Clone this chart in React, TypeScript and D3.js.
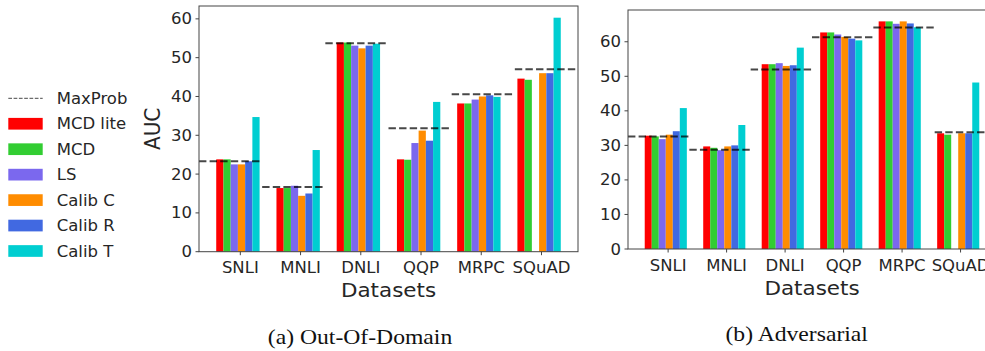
import React from 'react';
import * as d3 from 'd3';

// datasets on the x axis, methods as grouped bars
const datasets = ['SNLI', 'MNLI', 'DNLI', 'QQP', 'MRPC', 'SQuAD'];
const methods = ['MCD lite', 'MCD', 'LS', 'Calib C', 'Calib R', 'Calib T'];
const colors = ['#ff0000', '#32cd32', '#7b68ee', '#ff8c00', '#4169e1', '#00ced1'];

// (a) Out-Of-Domain
const oodMaxProb = [23.3, 16.7, 53.7, 31.8, 40.6, 47.0];
const oodMcdLite = [23.8, 16.4, 53.9, 23.8, 38.2, 44.6];
const oodMcd = [23.8, 16.4, 53.9, 23.7, 38.2, 44.3];
const oodLs = [22.5, 17.0, 53.1, 28.0, 39.2, null];
const oodCalibC = [22.5, 14.4, 52.4, 31.2, 40.0, 46.0];
const oodCalibR = [23.3, 15.0, 53.1, 28.6, 40.3, 46.0];
const oodCalibT = [34.7, 26.2, 53.6, 38.6, 39.9, 60.3];

// (b) Adversarial
const advMaxProb = [32.6, 28.7, 52.0, 61.3, 64.1, 33.8];
const advMcdLite = [32.8, 29.7, 53.5, 62.7, 65.9, 33.5];
const advMcd = [32.6, 29.3, 53.5, 62.7, 65.9, 33.1];
const advLs = [31.8, 28.6, 53.8, 62.1, 65.2, null];
const advCalibC = [33.1, 29.7, 53.0, 61.4, 65.9, 33.5];
const advCalibR = [34.1, 30.0, 53.2, 60.9, 65.3, 33.5];
const advCalibT = [40.8, 35.9, 58.3, 60.4, 64.2, 48.2];

const yTicks = [0, 10, 20, 30, 40, 50, 60];

const FONT = 'DejaVu Sans, sans-serif';
const TEXT = '#262626';
const SPINE = '#444';
const BAR_W = 0.12;
const SX = 1.1; // the reference is slightly stretched horizontally

type PanelProps = {
  left: number; right: number; top: number; bottom: number;
  series: (number | null)[][];
  maxProb: number[];
  yLabel?: string;
  caption: string; captionX: number; captionY: number;
};

function Panel({ left, right, top, bottom, series, maxProb, yLabel, caption, captionX, captionY }: PanelProps) {
  const span = datasets.length - 1 + 6 * BAR_W;
  const pad = span * 0.05;
  const x = d3.scaleLinear()
    .domain([-3 * BAR_W - pad, datasets.length - 1 + 3 * BAR_W + pad])
    .range([left, right]);
  const yMax = d3.max(series.flat().concat(maxProb), d => d ?? 0)! * 1.05;
  const y = d3.scaleLinear().domain([0, yMax]).range([bottom, top]);
  const frac = d3.scaleLinear().domain([0, datasets.length]).range([left, right]);
  const midX = (left + right) / 2;

  return (
    <g>
      {series.map((vals, k) => (
        <g key={methods[k]} fill={colors[k]}>
          {vals.map((v, i) => v == null ? null : (
            <rect key={i}
              x={x(i + (k - 3) * BAR_W)}
              width={x(BAR_W) - x(0)}
              y={y(v)}
              height={y(0) - y(v)} />
          ))}
        </g>
      ))}
      {maxProb.map((v, i) => (
        <line key={i} x1={frac(i)} x2={frac(i + 1)} y1={y(v)} y2={y(v)}
          stroke="#000" strokeOpacity={0.72} strokeWidth={2} strokeDasharray="7.4 3.2" />
      ))}
      <rect x={left} y={top} width={right - left} height={bottom - top}
        fill="none" stroke={SPINE} strokeWidth={1} />
      {yTicks.map(t => (
        <g key={t}>
          <line x1={left - 3.5} x2={left} y1={y(t)} y2={y(t)} stroke={SPINE} />
          <text transform={`translate(${left - 7},${y(t) + 5.5}) scale(${SX},1)`}
            textAnchor="end" fontFamily={FONT} fontSize={15} fill={TEXT}>{t}</text>
        </g>
      ))}
      {datasets.map((name, i) => {
        const tx = x(i + 0.04);
        return (
          <g key={name}>
            <line x1={tx} x2={tx} y1={bottom} y2={bottom + 3.5} stroke={SPINE} />
            <text transform={`translate(${tx},${bottom + 21.5}) scale(${SX},1)`}
              textAnchor="middle" fontFamily={FONT} fontSize={15} fill={TEXT}>{name}</text>
          </g>
        );
      })}
      <text transform={`translate(${midX},${bottom + 45.5}) scale(${SX},1)`}
        textAnchor="middle" fontFamily={FONT} fontSize={19.5} fill={TEXT}>Datasets</text>
      {yLabel && (
        <text transform={`translate(${left - 39},${(top + bottom) / 2}) scale(${SX},1) rotate(-90)`}
          textAnchor="middle" fontFamily={FONT} fontSize={20} fill={TEXT}>{yLabel}</text>
      )}
      <text transform={`translate(${captionX},${captionY}) scale(${SX},1)`}
        textAnchor="middle" fontFamily="Liberation Serif, Times New Roman, serif" fontSize={21.5}
        fill="#111">{caption}</text>
    </g>
  );
}

function Legend() {
  const rowY = d3.scaleLinear().domain([0, 1]).range([98.3, 123.75]);
  return (
    <g>
      <line x1={8.3} x2={42.7} y1={rowY(0)} y2={rowY(0)} stroke="#000" strokeOpacity={0.72}
        strokeWidth={1} strokeDasharray="3.7 1.6" />
      <text transform={`translate(56.7,${rowY(0) + 5.5}) scale(${SX},1)`}
        fontFamily={FONT} fontSize={15} fill={TEXT}>MaxProb</text>
      {methods.map((m, k) => (
        <g key={m}>
          <rect x={8.3} width={34.4} y={rowY(k + 1) - 5.85} height={11.7} fill={colors[k]} />
          <text transform={`translate(56.7,${rowY(k + 1) + 5.5}) scale(${SX},1)`}
            fontFamily={FONT} fontSize={15} fill={TEXT}>{m}</text>
        </g>
      ))}
    </g>
  );
}

export default function App() {
  const ood = [oodMcdLite, oodMcd, oodLs, oodCalibC, oodCalibR, oodCalibT];
  const adv = [advMcdLite, advMcd, advLs, advCalibC, advCalibR, advCalibT];
  return (
    <div style={{ position: 'fixed', left: 0, top: 0, width: 985, height: 351, overflow: 'hidden', background: '#fff' }}>
      <svg width={985} height={351} style={{ display: 'block' }}>
        <rect width={985} height={351} fill="#fff" />
        <Legend />
        <Panel left={199} right={578} top={6} bottom={251.7}
          series={ood} maxProb={oodMaxProb} yLabel="AUC"
          caption="(a) Out-Of-Domain" captionX={360} captionY={344} />
        <Panel left={628} right={996} top={10} bottom={249}
          series={adv} maxProb={advMaxProb}
          caption="(b) Adversarial" captionX={796.7} captionY={340.7} />
      </svg>
    </div>
  );
}
